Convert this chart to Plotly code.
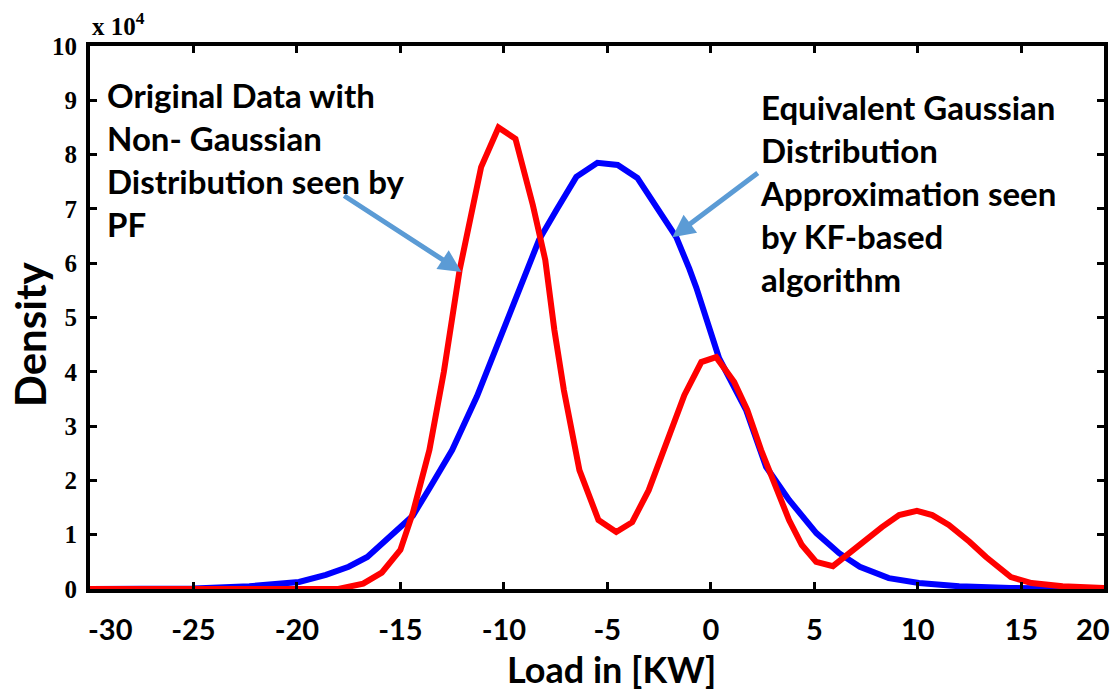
import plotly.graph_objects as go

# ---- data ----
red_x = [-30, -18.0, -16.8, -15.9, -15.0, -14.4, -13.6, -12.9, -12.14, -11.1, -10.26, -9.44,
         -8.6, -8.0, -7.56, -7.1, -6.35, -5.43, -4.57, -3.8, -3.0, -2.1, -1.28, -0.46, 0.26,
         1.13, 1.76, 2.43, 3.16, 3.78, 4.4, 5.09, 5.9, 7.3, 8.27, 9.1, 9.96, 10.7,
         11.5, 12.5, 13.3, 14.5, 15.5, 17.0, 19.0]
red_y = [0.0, 0.0, 0.1, 0.3, 0.72, 1.4, 2.56, 4.0, 5.87, 7.77, 8.5, 8.29,
         7.07, 6.06, 4.77, 3.66, 2.19, 1.27, 1.05, 1.23, 1.82, 2.74, 3.57, 4.18, 4.27,
         3.81, 3.3, 2.56, 1.82, 1.27, 0.81, 0.5, 0.42, 0.85, 1.14, 1.36, 1.44, 1.36,
         1.18, 0.87, 0.59, 0.22, 0.11, 0.05, 0.02]

blue_x = [-30, -25.0, -22.3, -19.9, -18.6, -17.5, -16.6, -15.7, -14.4, -13.6, -12.5, -11.3,
          -10.2, -9.1, -8.3, -7.46, -6.5, -5.48, -4.5, -3.55, -2.59, -1.67, -1.04, -0.7,
          0.4, 1.7, 2.67, 3.78, 5.1, 6.2, 7.2, 8.6, 10.06, 12.0, 14.5, 19.0]
blue_y = [0.0, 0.01, 0.05, 0.13, 0.26, 0.41, 0.59, 0.9, 1.35, 1.85, 2.56, 3.55,
          4.62, 5.69, 6.43, 6.98, 7.59, 7.85, 7.81, 7.57, 7.02, 6.48, 5.9, 5.55,
          4.25, 3.3, 2.25, 1.64, 1.03, 0.66, 0.41, 0.2, 0.11, 0.05, 0.02, 0.0]

x_ticks = [-25, -20, -15, -10, -5, 0, 5, 10, 15]
x_tick_text = ["-25", "-20", "-15", "-10", "-5", "0", "5", "10", "15"]
y_ticks = [0, 1, 2, 3, 4, 5, 6, 7, 8, 9, 10]

SANS = "Lato"
SERIF = "Liberation Serif"

fig = go.Figure()
fig.add_trace(go.Scatter(x=blue_x, y=blue_y, mode="lines",
                         line=dict(color="#0000FF", width=6), showlegend=False))
fig.add_trace(go.Scatter(x=red_x, y=red_y, mode="lines",
                         line=dict(color="#FF0000", width=6), showlegend=False))

fig.update_layout(
    width=1120, height=690,
    margin=dict(l=90, r=16, t=46, b=101),
    paper_bgcolor="white", plot_bgcolor="white",
    showlegend=False,
)
fig.update_xaxes(
    range=[-30, 19], tickvals=x_ticks, ticktext=x_tick_text,
    showgrid=False, zeroline=False,
    showline=True, linecolor="black", linewidth=4, mirror="ticks",
    ticks="inside", ticklen=7, tickwidth=3, tickcolor="black",
    tickfont=dict(family=SANS, size=29, color="black", weight="bold"),
    ticklabelstandoff=12,
)
fig.update_yaxes(
    range=[0, 10], tickvals=y_ticks,
    showgrid=False, zeroline=False,
    showline=True, linecolor="black", linewidth=4, mirror="ticks",
    ticks="inside", ticklen=7, tickwidth=3, tickcolor="black",
    tickfont=dict(family=SERIF, size=25, color="black", weight="bold"),
    ticklabelstandoff=4,
)

ann = []
# extra end tick labels
ann.append(dict(xref="paper", yref="paper", x=(110 - 90) / 1014, y=(589 - 628) / 543,
                text="-30", showarrow=False, xanchor="center", yanchor="middle",
                font=dict(family=SANS, size=29, color="black", weight="bold")))
ann.append(dict(xref="paper", yref="paper", x=(1093 - 90) / 1014, y=(589 - 628) / 543,
                text="20", showarrow=False, xanchor="center", yanchor="middle",
                font=dict(family=SANS, size=29, color="black", weight="bold")))
# axis titles
ann.append(dict(xref="paper", yref="paper", x=(611 - 90) / 1014, y=(589 - 669) / 543,
                text="Load in [KW]", showarrow=False, xanchor="center", yanchor="middle",
                font=dict(family=SANS, size=36, color="black", weight="bold")))
ann.append(dict(xref="paper", yref="paper", x=(30 - 90) / 1014, y=(589 - 334) / 543,
                text="Density", showarrow=False, textangle=-90, xanchor="center", yanchor="middle",
                font=dict(family=SANS, size=42, color="black", weight="bold")))
# exponent
ann.append(dict(xref="paper", yref="paper", x=(90 - 90) / 1014, y=(589 - 42) / 543,
                text="x 10<sup>4</sup>", showarrow=False, xanchor="left", yanchor="bottom",
                font=dict(family=SERIF, size=25, color="black", weight="bold")))
# text labels
ann.append(dict(xref="paper", yref="paper", x=(105 - 90) / 1014, y=(589 - 73) / 543,
                text="Original Data with<br>Non- Gaussian<br>Distribution seen by<br>PF",
                showarrow=False, xanchor="left", yanchor="top", align="left",
                font=dict(family=SANS, size=33, color="black", weight="bold")))
ann.append(dict(xref="paper", yref="paper", x=(758 - 90) / 1014, y=(589 - 85) / 543,
                text="Equivalent Gaussian<br>Distribution<br>Approximation seen<br>by KF-based<br>algorithm",
                showarrow=False, xanchor="left", yanchor="top", align="left",
                font=dict(family=SANS, size=33, color="black", weight="bold")))
# arrows
ann.append(dict(x=-12.05, y=5.84, ax=-17.79, ay=7.26, xref="x", yref="y", axref="x", ayref="y",
                text="", showarrow=True, arrowhead=2, arrowsize=0.9, arrowwidth=5,
                arrowcolor="#5B9BD5"))
ann.append(dict(x=-1.86, y=6.48, ax=2.34, ay=7.68, xref="x", yref="y", axref="x", ayref="y",
                text="", showarrow=True, arrowhead=2, arrowsize=0.9, arrowwidth=5,
                arrowcolor="#5B9BD5"))
fig.update_layout(annotations=ann)

fig.write_html("out.html")
